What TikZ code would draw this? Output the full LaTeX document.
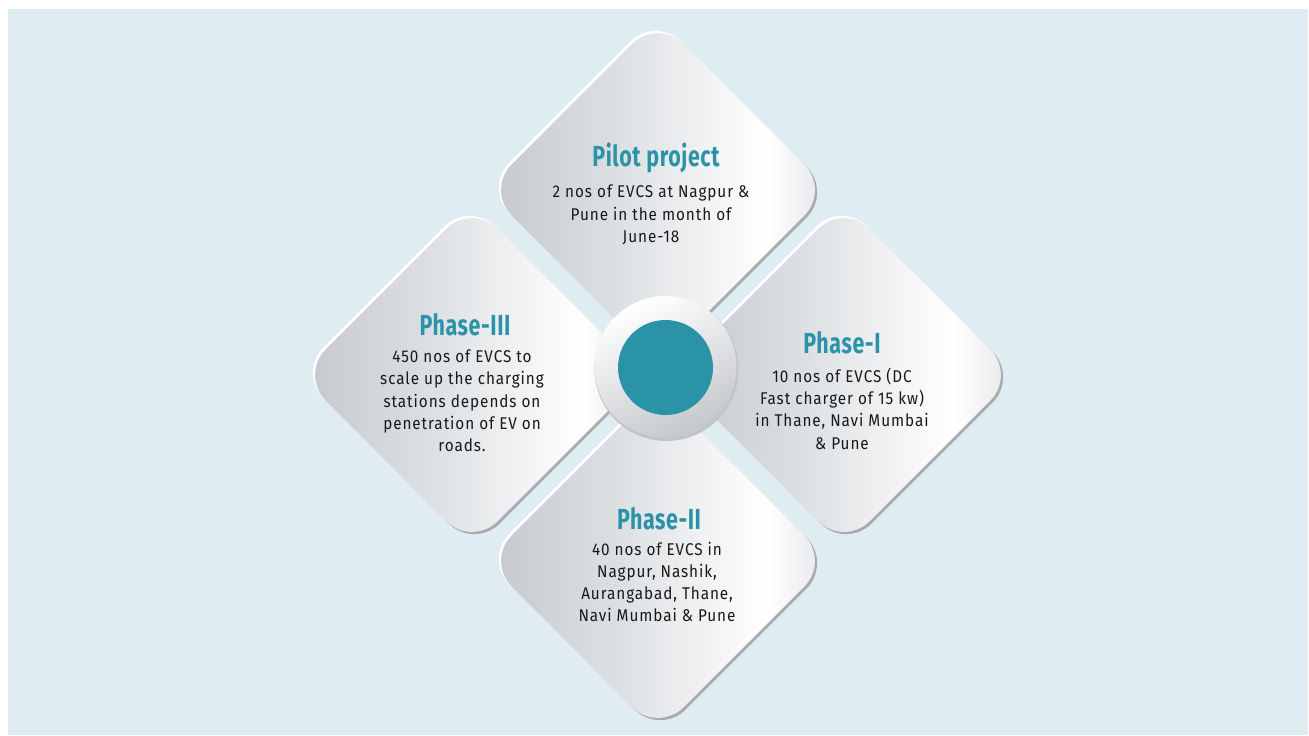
\documentclass[tikz,border=0pt]{standalone}
\usepackage{fontspec}
\setmainfont{Fira Sans}
\newfontfamily\bodyfont[FakeStretch=0.9,LetterSpace=5.5]{Fira Sans}
\newfontfamily\titlefont[FakeStretch=0.74,LetterSpace=2]{Fira Sans}
\usetikzlibrary{calc}
\definecolor{bgblue}{RGB}{223,236,242}
\definecolor{tealc}{RGB}{43,147,168}
\definecolor{dL}{RGB}{196,200,204}
\definecolor{dM}{RGB}{222,225,228}
\definecolor{dR}{RGB}{226,229,231}
\definecolor{dshadowc}{RGB}{168,171,175}
\definecolor{ringdark}{RGB}{196,199,203}
\definecolor{txt}{RGB}{25,25,25}
\pgfdeclarehorizontalshading{dmdshade}{100bp}{color(0bp)=(dL); color(25bp)=(dL); color(45bp)=(dM); color(66bp)=(white); color(75bp)=(dR); color(100bp)=(dR)}
\newcommand\dmdpath{(-85.9,-85.9) -- (0,-171.8) -- (171.8,0) -- (0,171.8) -- (-171.8,0) -- cycle}
\newcommand\dmd[2]{%
  \begin{scope}[shift={(#1,#2)}]
    \fill[dshadowc, rounded corners=18pt] [shift={(2.2,2.2)}] \dmdpath;
    \fill[white, rounded corners=18pt] [shift={(-2.2,-2.2)}] \dmdpath;
    \shade[shading=dmdshade, rounded corners=18pt] \dmdpath;
  \end{scope}}
\tikzset{
  ttl/.style={font=\titlefont\bfseries\fontsize{14.5}{16}\selectfont, text=tealc, inner sep=0pt},
  bdy/.style={font=\bodyfont\fontsize{8.5}{11.15}\selectfont, text=txt, align=center, inner sep=0pt}
}
\begin{document}
\begin{tikzpicture}[x=0.5pt,y=-0.5pt]
\useasboundingbox (0,0) rectangle (1309,735);
\fill[white] (0,0) rectangle (1309,735);
\fill[bgblue] (8,9) rectangle (1308,735);
% diamonds
\dmd{658}{190}
\dmd{844}{375}
\dmd{658}{561}
\dmd{472}{375}
% central circle
\fill[dshadowc!70] (666.5,369) circle[radius=72];
\shade[top color=white, bottom color=ringdark, shading angle=25] (665.5,367) circle[radius=71];
\fill[tealc] (665.5,367.5) circle[radius=47.5];
\coordinate (hub) at (665.5,367.5);
% texts
\node[ttl] (pilotT) at (656,158) {Pilot project};
\node[bdy] (pilotB) at (651,215) {2 nos of EVCS at Nagpur \&\\Pune in the month of\\June-18};
\node[ttl] (p1T) at (842,343) {Phase-I};
\node[bdy] (p1B) at (842,408.5) {10 nos of EVCS (DC\\Fast charger of 15 kw)\\in Thane, Navi Mumbai\\\& Pune};
\node[ttl] (p3T) at (465,325) {Phase-III};
\node[bdy] (p3B) at (462,401) {450 nos of EVCS to\\scale up the charging\\stations depends on\\penetration of EV on\\roads.};
\node[ttl] (p2T) at (659,519) {Phase-II};
\node[bdy] (p2B) at (657,582) {40 nos of EVCS in\\Nagpur, Nashik,\\Aurangabad, Thane,\\Navi Mumbai \& Pune};
\end{tikzpicture}
\end{document}
